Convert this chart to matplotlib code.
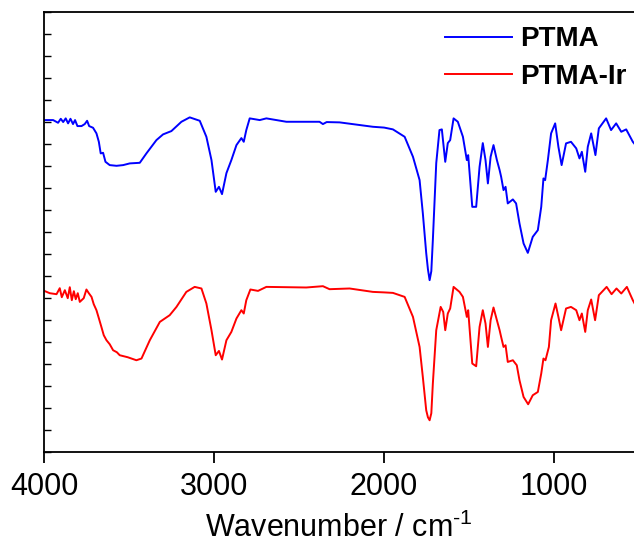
import matplotlib
matplotlib.use("Agg")
import matplotlib.pyplot as plt
import numpy as np

plt.rcParams['font.family'] = ['Liberation Sans', 'DejaVu Sans']
plt.rcParams['mathtext.fontset'] = 'custom'
plt.rcParams['mathtext.rm'] = 'Liberation Sans'
plt.rcParams['axes.unicode_minus'] = False

# PTMA (blue) : wavenumber (cm-1), intensity (a.u., offset)
ptma_w = [4000, 3948, 3919, 3903, 3889, 3874, 3860, 3846, 3831, 3819, 3805, 3781, 3762,
          3748, 3736, 3713, 3693, 3679, 3668, 3654, 3640, 3615, 3575, 3536, 3497, 3438,
          3399, 3340, 3301, 3252, 3193, 3144, 3085, 3046, 3016, 2991, 2972, 2954, 2928,
          2899, 2869, 2840, 2826, 2811, 2791, 2732, 2693, 2575, 2419, 2380, 2360, 2338,
          2262, 2066, 2000, 1948, 1879, 1830, 1791, 1772, 1752, 1742, 1732, 1722, 1713, 1693, 1674, 1660,
          1640, 1625, 1611, 1591, 1566, 1536, 1513, 1505, 1481, 1458, 1438, 1419, 1403,
          1389, 1373, 1356, 1336, 1320, 1311, 1297, 1285, 1272, 1242, 1223, 1203, 1179,
          1154, 1125, 1095, 1075, 1062, 1052, 1036, 1017, 993, 974, 955, 929, 900, 869,
          850, 836, 816, 801, 781, 756, 736, 693, 664, 634, 604, 575, 536, 520]
ptma_v = [335, 335, 332.3, 336.3, 333, 336.7, 331.7, 336.3, 331, 335, 329, 329, 331,
          334.3, 329, 327.3, 321.7, 313.3, 301.7, 302.3, 293.3, 290, 289.3, 290, 291.7, 292.3,
          301.7, 315, 320.7, 324, 333.3, 337.7, 334.3, 318.3, 295, 263.3, 268.3, 261, 282,
          295, 310, 317, 313.3, 325, 336.7, 335, 336.7, 333.3, 333.3, 333.3, 331, 333,
          332.7, 328.3, 327.5, 325.7, 318.3, 298.3, 275, 242, 202, 186, 175, 184, 215, 292, 325, 325.7,
          293.3, 312, 315, 336.7, 333.3, 318.3, 295, 300, 248.3, 248.3, 288.3, 312, 295,
          271.7, 298.3, 310, 295, 285, 278.3, 265, 268.3, 251.7, 255.7, 251.7, 231.7, 211.7,
          202.3, 218.3, 225, 248.3, 276.7, 275, 295, 321.7, 331.7, 308.3, 290, 311.7, 313.3, 306.7,
          296.7, 303.3, 283.3, 308.3, 321.7, 300, 326.7, 336.7, 325, 331.7, 323.3, 325.7, 313.3, 310]

# PTMA-Ir (red)
ir_w = [4000, 3968, 3928, 3909, 3897, 3879, 3862, 3850, 3838, 3826, 3815, 3803, 3791,
        3768, 3752, 3738, 3722, 3709, 3693, 3679, 3664, 3650, 3634, 3615, 3595, 3573,
        3556, 3509, 3458, 3428, 3379, 3320, 3262, 3222, 3164, 3115, 3075, 3046, 3016,
        2991, 2972, 2954, 2928, 2899, 2869, 2840, 2826, 2811, 2787, 2742, 2693, 2458,
        2360, 2321, 2203, 2066, 2000, 1948, 1879, 1830, 1791, 1772, 1752, 1742, 1732, 1722, 1713, 1693,
        1667, 1652, 1640, 1625, 1611, 1591, 1556, 1536, 1513, 1505, 1481, 1458, 1438,
        1419, 1403, 1389, 1373, 1356, 1336, 1320, 1311, 1297, 1285, 1272, 1242, 1219,
        1203, 1179, 1152, 1125, 1095, 1075, 1062, 1050, 1030, 1017, 991, 974, 958, 929,
        900, 869, 850, 836, 816, 801, 781, 758, 736, 690, 661, 632, 604, 571, 536, 520]
ir_v = [164.3, 162, 161, 167, 158, 165, 157, 168, 155, 164, 156, 162, 153.3,
        157, 165.7, 162, 158.3, 151, 145, 137, 128.3, 120, 115, 111, 105, 103,
        100, 98, 95, 96.7, 115, 133.3, 140, 148.3, 163.3, 168.3, 166.7, 151.7, 125,
        100, 104.3, 95.7, 115, 123.3, 136.7, 145, 141.7, 155, 165.7, 164.3, 168.3, 167.7,
        169, 166, 166.7, 163.3, 162.8, 162.3, 158.3, 138.3, 108.3, 78.3, 45, 38, 35, 42, 71.7, 125,
        148.3, 143.3, 125, 141.7, 146.7, 168.3, 163.3, 158.3, 138.3, 145, 91.7, 89, 128.3,
        145, 131.7, 108.3, 135, 147.7, 135, 125, 118.3, 108.3, 110, 93.3, 95, 90,
        75, 58.3, 51, 60, 63.3, 81.7, 96.7, 95, 108.3, 135, 151.7, 138.3, 125, 146.7,
        148.3, 145, 135, 141.7, 123.3, 145, 155.7, 135, 160, 168.3, 161, 166.7, 161.7, 168.3, 155, 150]

x_ticks = [4000, 3000, 2000, 1000]
labels = ['PTMA', 'PTMA-Ir']

fig = plt.figure(figsize=(6.34, 5.43), dpi=100)
ax = fig.add_axes([44.3 / 634, 1 - 452.3 / 543, 1 - 44.3 / 634, (452.3 - 12) / 543])

ax.plot(ptma_w, ptma_v, color='#0000ff', lw=1.4, label=labels[0])
ax.plot(ir_w, ir_v, color='#ff0000', lw=1.4, label=labels[1])

ax.set_xlim(4000, 529)
ax.set_ylim(3, 443)
ax.set_xticks(x_ticks)
ax.set_xticklabels([str(t) for t in x_ticks])
ax.set_yticks(np.arange(3, 444, 22))
ax.set_yticklabels([])
ax.tick_params(axis='x', direction='out', length=8, width=1.3, labelsize=22, pad=6)
ax.tick_params(axis='y', direction='in', length=5, width=1.0, left=True)
for s in ['left', 'bottom', 'top']:
    ax.spines[s].set_linewidth(1.3)
ax.spines['right'].set_visible(False)

ax.set_xlabel(r'Wavenumber / cm$^{\text{-1}}$', fontsize=22, labelpad=8)

leg = ax.legend(loc='upper right', bbox_to_anchor=(1.016, 1.005), frameon=False,
                prop={'weight': 'bold', 'size': 20}, handlelength=2.4,
                handletextpad=0.32, labelspacing=0.42, borderaxespad=0.2)

fig.savefig('out.png', dpi=100)
